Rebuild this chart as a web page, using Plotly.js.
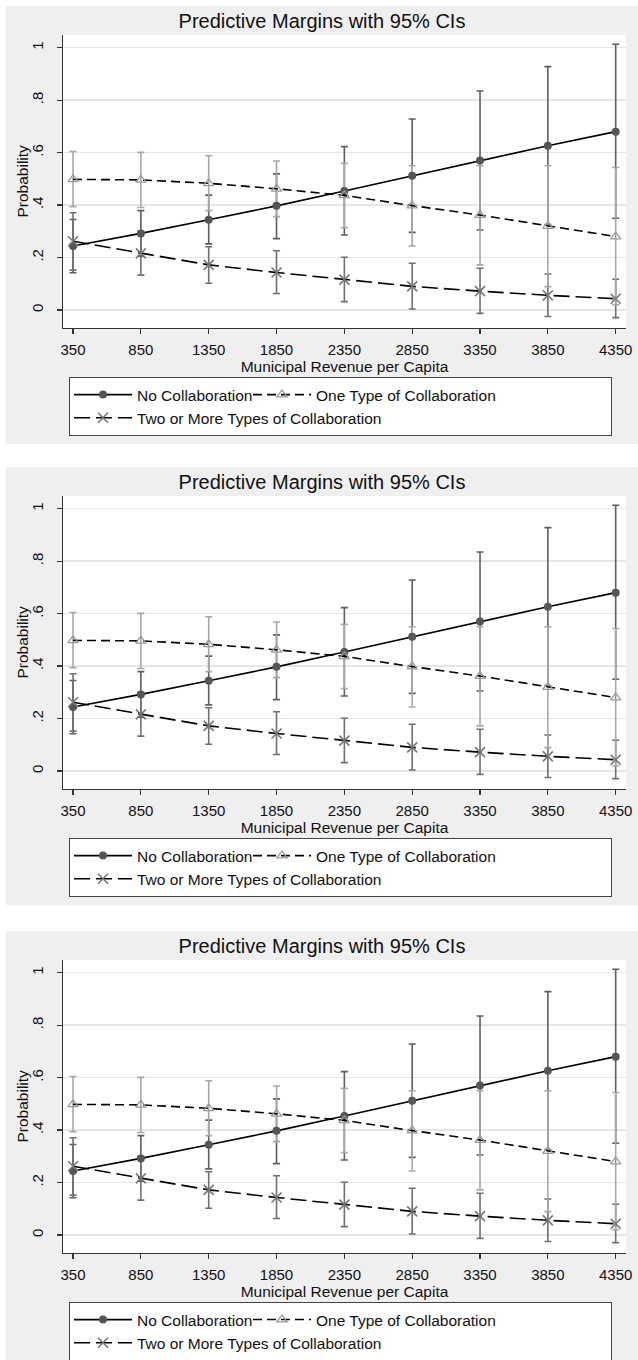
<!DOCTYPE html>
<html><head><meta charset="utf-8">
<script src="https://cdn.plot.ly/plotly-3.0.1.min.js"></script>
<style>
html,body{margin:0;padding:0;background:#fff;width:638px;height:1360px;overflow:hidden;}
.panel{position:absolute;left:6px;width:632px;height:438px;}
</style></head><body>
<div id="p1" class="panel" style="top:6px"></div>
<div id="p2" class="panel" style="top:467px"></div>
<div id="p3" class="panel" style="top:931px"></div>
<script>
const revenue = [350, 850, 1350, 1850, 2350, 2850, 3350, 3850, 4350];
const revenueLabels = ['350', '850', '1350', '1850', '2350', '2850', '3350', '3850', '4350'];
const probTicks = [0, 0.2, 0.4, 0.6, 0.8, 1];
const probTickLabels = ['0', '.2', '.4', '.6', '.8', '1'];

const seriesNames = ['No Collaboration', 'One Type of Collaboration', 'Two or More Types of Collaboration'];

const noCollab   = [0.244, 0.292, 0.344, 0.397, 0.454, 0.512, 0.570, 0.626, 0.680];
const noCollabLo = [0.142, 0.205, 0.252, 0.272, 0.286, 0.296, 0.305, 0.326, 0.350];
const noCollabHi = [0.345, 0.379, 0.438, 0.519, 0.623, 0.728, 0.835, 0.928, 1.013];

const oneType   = [0.498, 0.496, 0.483, 0.462, 0.437, 0.398, 0.362, 0.320, 0.280];
const oneTypeLo = [0.394, 0.391, 0.379, 0.356, 0.314, 0.244, 0.172, 0.089, 0.020];
const oneTypeHi = [0.604, 0.601, 0.588, 0.568, 0.559, 0.550, 0.550, 0.550, 0.543];

const twoMore   = [0.262, 0.216, 0.172, 0.143, 0.116, 0.090, 0.072, 0.056, 0.043];
const twoMoreLo = [0.152, 0.133, 0.102, 0.063, 0.032, 0.004, -0.013, -0.025, -0.029];
const twoMoreHi = [0.371, 0.299, 0.241, 0.226, 0.201, 0.178, 0.159, 0.137, 0.117];

const FONT = 'Liberation Sans, Arial, sans-serif';

function ciTrace(v, lo, hi, color) {
  return {
    x: revenue, y: v, type: 'scatter', mode: 'markers',
    marker: {opacity: 0, size: 2},
    showlegend: false, hoverinfo: 'skip',
    error_y: {type: 'data', symmetric: false,
      array: hi.map((h, i) => h - v[i]),
      arrayminus: lo.map((l, i) => v[i] - l),
      color: color, thickness: 1.6, width: 3.5}
  };
}

function buildTraces() {
  return [
    ciTrace(noCollab, noCollabLo, noCollabHi, '#5e5e5e'),
    ciTrace(twoMore, twoMoreLo, twoMoreHi, '#707070'),
    ciTrace(oneType, oneTypeLo, oneTypeHi, '#a8a8a8'),
    {x: revenue, y: noCollab, name: seriesNames[0], type: 'scatter', mode: 'lines+markers',
     legendgroup: 'a',
     line: {color: '#000', width: 1.6},
     marker: {symbol: 'circle', size: 8, color: '#555'}},
    {x: revenue, y: oneType, name: seriesNames[1], type: 'scatter', mode: 'lines+markers',
     legendgroup: 'b', legendwidth: 290,
     line: {color: '#000', width: 1.6, dash: '9px,5px'},
     marker: {symbol: 'triangle-up-open', size: 9, color: '#9a9a9a', line: {width: 1.3, color: '#9a9a9a'}}},
    {x: revenue, y: twoMore, name: seriesNames[2], type: 'scatter', mode: 'lines+markers',
     legendgroup: 'a', legendwidth: 106,
     line: {color: '#000', width: 1.6, dash: '16px,6px'},
     marker: {symbol: 'x-thin-open', size: 10, color: '#777', line: {width: 1.6, color: '#777'}}}
  ];
}

function buildLayout() {
  return {
    width: 632, height: 438,
    margin: {l: 57, r: 12, t: 29, b: 116},
    paper_bgcolor: '#efefef', plot_bgcolor: '#ffffff',
    font: {family: FONT, size: 15, color: '#111'},
    title: {text: 'Predictive Margins with 95% CIs', font: {family: FONT, size: 20, color: '#111'},
            x: 0.5, xref: 'container', xanchor: 'center', y: 1 - 15 / 438, yref: 'container', yanchor: 'middle'},
    xaxis: {range: [276, 4426], tickvals: revenue, ticktext: revenueLabels, automargin: false,
            ticks: 'outside', ticklen: 5, tickwidth: 1.2, tickcolor: '#333', ticklabelstandoff: 3,
            showline: true, linecolor: '#333', linewidth: 1.2, showgrid: false, zeroline: false,
            tickfont: {size: 15, color: '#111'},
            title: {text: 'Municipal Revenue per Capita', font: {size: 15.5, color: '#111'}, standoff: 0}},
    yaxis: {range: [-0.0686, 1.0484], tickvals: probTicks, ticktext: probTickLabels, automargin: false,
            tickangle: -90, ticks: 'outside', ticklen: 5, tickwidth: 1.2, tickcolor: '#333', ticklabelstandoff: 8,
            showline: true, linecolor: '#333', linewidth: 1.2,
            showgrid: true, gridcolor: '#e6e6e6', gridwidth: 1.5, zeroline: false,
            tickfont: {size: 15, color: '#111'}},
    annotations: [{text: 'Probability', textangle: -90, showarrow: false,
                   xref: 'paper', x: -41 / 563, xanchor: 'center',
                   yref: 'paper', y: 0.5, yanchor: 'middle',
                   font: {family: FONT, size: 15.5, color: '#111'}}],
    legend: {orientation: 'h', traceorder: 'grouped', x: 6 / 563, xanchor: 'left',
             yref: 'container', y: 1 - 371 / 438, yanchor: 'top',
             bgcolor: '#ffffff', bordercolor: '#444', borderwidth: 1,
             itemwidth: 58, entrywidth: 106, entrywidthmode: 'pixels',
             font: {family: FONT, size: 15.5, color: '#111'}},
    showlegend: true
  };
}

['p1', 'p2', 'p3'].forEach(id => {
  Plotly.newPlot(id, buildTraces(), buildLayout(), {displayModeBar: false, staticPlot: true});
});
</script>
</body></html>
